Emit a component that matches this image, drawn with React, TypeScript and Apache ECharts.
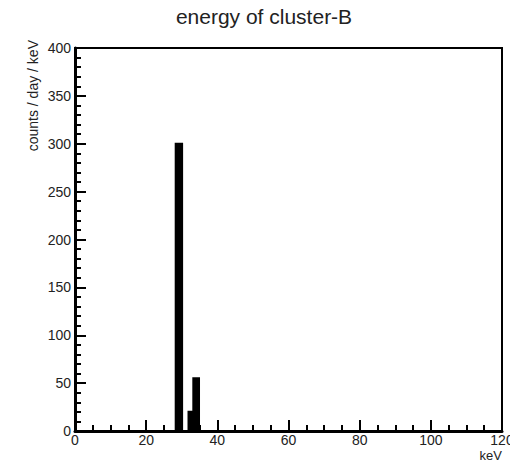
import React, { useEffect, useRef } from "react";
import * as echarts from "echarts";

const binLow = [28.3, 31.9, 33.25];
const binHigh = [30.1, 33.25, 34.85];
const counts = [300, 20, 55];
const xTicks = [0, 20, 40, 60, 80, 100, 120];
const yTicks = [0, 50, 100, 150, 200, 250, 300, 350, 400];
const titleText = "energy of cluster-B";
const xTitle = "keV";
const yTitle = "counts / day / keV";

export default function App() {
  const ref = useRef<HTMLDivElement>(null);
  useEffect(() => {
    if (!ref.current) return;
    const chart = echarts.init(ref.current, null, { renderer: "svg" });
    const font = "Liberation Sans";
    const data = binLow.map((lo, i) => [lo, binHigh[i], counts[i]]);
    chart.setOption({
      animation: false,
      backgroundColor: "#fff",
      grid: {
        left: 75,
        right: 8,
        top: 48,
        bottom: 32,
        outerBoundsMode: "none",
        containLabel: false,
        show: true,
        borderColor: "#000",
        borderWidth: 2,
        backgroundColor: "transparent",
      },
      xAxis: {
        type: "value",
        min: xTicks[0],
        max: xTicks[xTicks.length - 1],
        interval: 20,
        axisLine: { show: true, onZero: false, lineStyle: { color: "#000", width: 3 } },
        axisTick: { show: true, inside: true, length: 11, lineStyle: { color: "#000", width: 2 } },
        minorTick: { show: true, splitNumber: 4, length: 6, lineStyle: { color: "#000", width: 2 } },
        splitLine: { show: false },
        axisLabel: { fontFamily: font, fontSize: 14, color: "#222", margin: 2 },
      },
      yAxis: {
        type: "value",
        min: yTicks[0],
        max: yTicks[yTicks.length - 1],
        interval: 50,
        axisLine: { show: true, onZero: false, lineStyle: { color: "#000", width: 3 } },
        axisTick: { show: true, inside: true, length: 11, lineStyle: { color: "#000", width: 2 } },
        minorTick: { show: true, splitNumber: 5, length: 6, lineStyle: { color: "#000", width: 2 } },
        splitLine: { show: false },
        axisLabel: { fontFamily: font, fontSize: 14, color: "#222", margin: 4 },
      },
      graphic: [
        {
          type: "text",
          x: 264,
          y: 16,
          style: {
            text: titleText,
            fontFamily: font,
            fontSize: 21,
            fill: "#222",
            align: "center",
            verticalAlign: "middle",
          },
        },
        {
          type: "text",
          x: 502,
          y: 455,
          style: {
            text: xTitle,
            fontFamily: font,
            fontSize: 13,
            fill: "#222",
            align: "right",
            verticalAlign: "middle",
          },
        },
        {
          type: "text",
          x: 33,
          y: 40,
          rotation: Math.PI / 2,
          style: {
            text: yTitle,
            fontFamily: font,
            fontSize: 14,
            fill: "#222",
            align: "right",
            verticalAlign: "middle",
          },
        },
      ],
      series: [
        {
          type: "custom",
          data,
          encode: { x: [0, 1], y: 2 },
          renderItem: (params: any, api: any) => {
            const p0 = api.coord([api.value(0), 0]);
            const p1 = api.coord([api.value(1), api.value(2)]);
            return {
              type: "rect",
              shape: {
                x: p0[0],
                y: p1[1],
                width: p1[0] - p0[0],
                height: p0[1] - p1[1],
              },
              style: { fill: "#000", stroke: "#000", lineWidth: 2 },
            };
          },
        },
      ],
    });
    return () => chart.dispose();
  }, []);
  return (
    <div
      ref={ref}
      style={{ position: "fixed", left: 0, top: 0, width: 510, height: 463 }}
    />
  );
}
